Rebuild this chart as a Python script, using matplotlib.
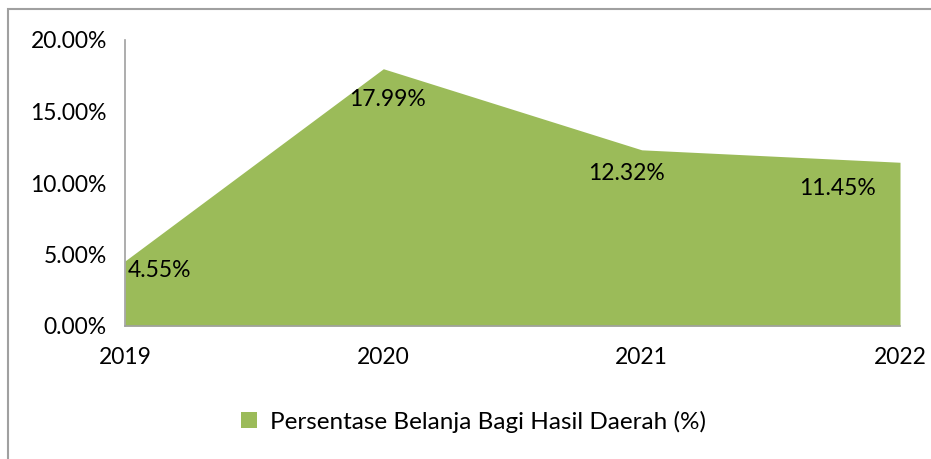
import matplotlib.pyplot as plt
from matplotlib.patches import Rectangle
from matplotlib.ticker import FuncFormatter

# Persentase belanja bagi hasil daerah per tahun
years = ["2019", "2020", "2021", "2022"]
values = [4.55, 17.99, 12.32, 11.45]
# geser label data (pt) relatif ke titiknya
label_offsets = [(25, -7), (3, -22), (-11, -17), (-45, -19)]

green = "#9BBB59"
plt.rcParams["font.family"] = ["Lato", "DejaVu Sans"]

fig = plt.figure(figsize=(9.31, 4.59), dpi=100)
ax = fig.add_axes([125 / 931, 1 - 326 / 459, 775 / 931, 286 / 459])

x = list(range(len(years)))
ax.fill_between(x, values, 0, color=green, linewidth=0, label="Persentase Belanja Bagi Hasil Daerah (%)")

ax.set_xlim(0, len(years) - 1)
ax.set_ylim(0, 20)
ax.set_yticks([0, 5, 10, 15, 20])
ax.yaxis.set_major_formatter(FuncFormatter(lambda v, _: f"{v:.2f}%"))
ax.set_xticks(x)
ax.set_xticklabels(years)
ax.tick_params(axis="both", length=0, labelsize=16.5, colors="black")
ax.tick_params(axis="y", pad=13)
ax.tick_params(axis="x", pad=15)

for s in ["top", "right"]:
    ax.spines[s].set_visible(False)
for s in ["left", "bottom"]:
    ax.spines[s].set_color("#A0A0A0")
    ax.spines[s].set_linewidth(1.2)

for i, v in enumerate(values):
    ax.annotate(f"{v:.2f}%", xy=(i, v), xytext=label_offsets[i], textcoords="offset points",
                ha="center", va="center", fontsize=16.5, color="black", annotation_clip=False)

leg = fig.legend(loc="center", bbox_to_anchor=(0.509, 0.081), frameon=False, fontsize=17.5,
                 handlelength=0.65, handleheight=0.65, handletextpad=0.55)

# frame of the chart area, continuing past the right and bottom edges
fig.patches.append(Rectangle((8 / 931, -0.05), 1.1, 1 - 9 / 459 + 0.05, transform=fig.transFigure,
                             fill=False, edgecolor="#A0A0A0", linewidth=1.5))

fig.savefig("out.png", dpi=100, facecolor="white")
